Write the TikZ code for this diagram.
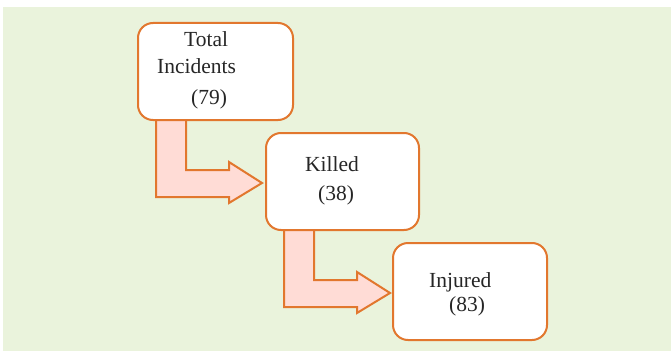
\documentclass[tikz,border=0pt]{standalone}
\usepackage{fontspec}
\setmainfont{Liberation Serif}
\definecolor{bg}{HTML}{EAF3DC}
\definecolor{edge}{HTML}{E2772E}
\definecolor{pinkfill}{HTML}{FFDCD6}
\tikzset{
  box/.style={draw=edge, line width=2pt, fill=white, rounded corners=15pt, inner sep=0pt},
  lbl/.style={anchor=base west, inner sep=0pt, font=\fontsize{21.5}{25}\selectfont, text=black!85},
  blockarrow/.style={draw=edge, line width=2pt, fill=pinkfill, line join=miter}
}
\begin{document}
\begin{tikzpicture}[x=1pt,y=-1pt]
\useasboundingbox (0,0) rectangle (671,353);
\fill[bg] (3,7) rectangle (671,351);
% arrows
\draw[blockarrow] (156,119) -- (156,197) -- (229,197) -- (229,203) -- (262,183) -- (229,162) -- (229,170) -- (186,170) -- (186,119) -- cycle;
\draw[blockarrow] (284,229) -- (284,307) -- (357,307) -- (357,313) -- (390,293) -- (357,272) -- (357,280) -- (314,280) -- (314,229) -- cycle;
% boxes
\node[box, minimum width=155pt, minimum height=97pt] (total) at (215.5,71.5) {};
\node[box, minimum width=153pt, minimum height=97pt] (killed) at (342.5,181.5) {};
\node[box, minimum width=154pt, minimum height=97pt] (injured) at (470,291.5) {};
% labels
\node[lbl] (t1) at (184,47) {Total};
\node[lbl] (t2) at (157,74) {Incidents};
\node[lbl] (t3) at (191,104) {(79)};
\node[lbl] (k1) at (305,171) {Killed};
\node[lbl] (k2) at (318,200) {(38)};
\node[lbl] (i1) at (429,287) {Injured};
\node[lbl] (i2) at (449,311) {(83)};
\end{tikzpicture}
\end{document}
